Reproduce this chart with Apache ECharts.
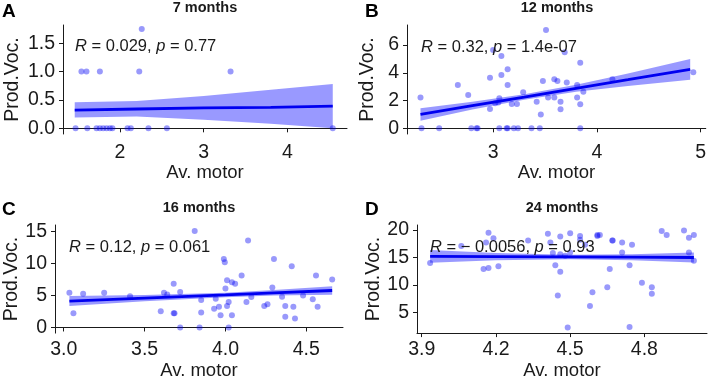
<!DOCTYPE html>
<html>
<head>
<meta charset="utf-8">
<script src="https://cdn.jsdelivr.net/npm/echarts@6/dist/echarts.min.js"></script>
<style>
  html, body { margin: 0; background: #fff; }
  #chart { width: 709px; height: 381px; }
</style>
</head>
<body>
<div id="chart"></div>
<script>
// A: 7 months
const pointsA = [
  [2.26, 1.75], [1.54, 1], [1.60, 1], [1.76, 1], [2.23, 1], [3.32, 1],
  [1.47, 0], [1.61, 0], [1.72, 0], [1.76, 0], [1.80, 0], [1.84, 0], [1.88, 0], [1.91, 0],
  [2.09, 0], [2.13, 0], [2.34, 0], [2.56, 0], [4.54, 0]
];
const fitXA = [1.46, 2.2, 3.0, 3.8, 4.54];
const fitA = [0.32, 0.34, 0.36, 0.37, 0.39];
const lowA = [0.19, 0.21, 0.15, 0.08, 0.0];
const highA = [0.46, 0.48, 0.57, 0.68, 0.78];

// B: 12 months
const pointsB = [
  [2.30, 2.21], [2.31, 0], [2.48, 0], [2.66, 3.12], [2.76, 2.4], [2.79, 0], [2.84, 0], [2.85, 0],
  [2.97, 3.65], [2.97, 1.39], [3.0, 5.64], [3.02, 1.8], [3.05, 1.85], [3.06, 2.16], [3.08, 3.84],
  [3.08, 5.21], [3.06, 0], [3.13, 0], [3.14, 0], [3.14, 4.25], [3.14, 3.12], [3.18, 1.75],
  [3.23, 1.75], [3.20, 0], [3.24, 0], [3.29, 2.59], [3.37, 0], [3.42, 1.92], [3.45, 0],
  [3.46, 1.0], [3.48, 3.4], [3.51, 7.08], [3.53, 2.21], [3.59, 3.53], [3.62, 3.4], [3.59, 2.21],
  [3.65, 1.92], [3.65, 1.37], [3.69, 5.47], [3.71, 3.29], [3.81, 2.21], [3.81, 3.12],
  [3.84, 4.73], [3.84, 1.73], [3.84, 0], [3.87, 2.64], [4.15, 3.53], [4.93, 4.03]
];
const fitXB = [2.3, 2.8, 3.3, 3.8, 4.3, 4.9];
const fitB = [1.0, 1.63, 2.25, 2.88, 3.5, 4.25];
const lowB = [0.55, 1.35, 2.05, 2.63, 3.05, 3.5];
const highB = [1.45, 1.91, 2.45, 3.13, 3.95, 5.0];

// C: 16 months
const pointsC = [
  [3.035, 5.43], [3.06, 2.22], [3.12, 5.28], [3.25, 5.43], [3.41, 4.9], [3.60, 2.53], [3.62, 5.43],
  [3.64, 5.17], [3.68, 6.83], [3.68, 2.22], [3.685, 2.22], [3.72, 5.54], [3.72, 0], [3.81, 15.1],
  [3.85, 4.29], [3.85, 2.33], [3.84, 0], [3.93, 2.95], [3.94, 4.5], [3.96, 3.26], [3.97, 1.91],
  [3.99, 10.7], [3.996, 10.2], [4.0, 6.1], [4.01, 3.36], [4.02, 3.98], [4.01, 7.4], [4.02, 0],
  [4.04, 7.09], [4.04, 1.91], [4.06, 6.83], [4.10, 8.12], [4.13, 3.98], [4.14, 13.6], [4.16, 4.76],
  [4.24, 3.36], [4.26, 3.62], [4.29, 6.26], [4.30, 10.7], [4.35, 4.81], [4.37, 3.36], [4.37, 1.66],
  [4.41, 9.57], [4.42, 3.26], [4.43, 1.4], [4.48, 5.02], [4.54, 4.4], [4.56, 8.12], [4.57, 3.26],
  [4.66, 7.5]
];
const fitXC = [3.035, 3.5, 4.0, 4.3, 4.66];
const fitC = [4.14, 4.6, 5.1, 5.42, 5.79];
const lowC = [3.36, 4.1, 4.75, 5.0, 5.12];
const highC = [4.92, 5.1, 5.45, 5.87, 6.46];

// D: 24 months
const pointsD = [
  [3.934, 14.0], [4.06, 17.1], [4.15, 12.9], [4.17, 13.1], [4.17, 19.5], [4.16, 17.7], [4.19, 18.5],
  [4.21, 13.4], [4.33, 18.1], [4.41, 19.3], [4.42, 17.7], [4.43, 15.8], [4.44, 13.6], [4.45, 8.1],
  [4.46, 18.8], [4.46, 12.4], [4.46, 15.6], [4.48, 15.3], [4.50, 19.4], [4.50, 15.9], [4.49, 2.3],
  [4.54, 18.9], [4.54, 18.2], [4.56, 17.3], [4.58, 6.2], [4.59, 8.7], [4.61, 18.9], [4.61, 19.1],
  [4.62, 19.1], [4.65, 9.6], [4.66, 12.9], [4.67, 18.1], [4.672, 18.1], [4.71, 17.7], [4.71, 15.9],
  [4.74, 13.6], [4.74, 2.4], [4.75, 17.3], [4.79, 10.4], [4.83, 9.6], [4.83, 8.4], [4.87, 19.8],
  [4.89, 19.1], [4.96, 19.9], [4.98, 18.6], [4.98, 15.9], [5.0, 19.1], [5.0, 14.4]
];
const fitXD = [3.934, 4.2, 4.5, 4.75, 5.0];
const fitD = [15.2, 15.15, 15.1, 15.05, 15.0];
const lowD = [14.05, 14.5, 14.7, 14.5, 14.1];
const highD = [16.35, 15.8, 15.5, 15.6, 15.9];

const xTicksA = [2, 3, 4], yTicksA = [0, 0.5, 1, 1.5];
const xTicksB = [3, 4, 5], yTicksB = [0, 2, 4, 6];
const xTicksC = [3.0, 3.5, 4.0, 4.5], yTicksC = [0, 5, 10, 15];
const xTicksD = [3.9, 4.2, 4.5, 4.8], yTicksD = [5, 10, 15, 20];

const titles = ['7 months', '12 months', '16 months', '24 months'];
const letters = ['A', 'B', 'C', 'D'];
const stats = [
  ['0.029', '0.77'],
  ['0.32', '1.4e-07'],
  ['0.12', '0.061'],
  ['\u2212 0.0056', '0.93']
];

const FONT = '"Liberation Sans", Arial, sans-serif';
const ink = '#1a1a1a';

const panels = [
  { pts: pointsA, fx: fitXA, fit: fitA, lo: lowA, hi: highA, xt: xTicksA, yt: yTicksA, xd: 0, yd: 1,
    grid: { left: 63, top: 25, width: 284, height: 109 }, xr: [1.32, 4.71], yr: [-0.1, 1.82], yGap: 40 },
  { pts: pointsB, fx: fitXB, fit: fitB, lo: lowB, hi: highB, xt: xTicksB, yt: yTicksB, xd: 0, yd: 0,
    grid: { left: 407, top: 25, width: 300, height: 109 }, xr: [2.17, 5.05], yr: [-0.41, 7.44], yGap: 29 },
  { pts: pointsC, fx: fitXC, fit: fitC, lo: lowC, hi: highC, xt: xTicksC, yt: yTicksC, xd: 1, yd: 0,
    grid: { left: 55, top: 225, width: 288, height: 109 }, xr: [2.946, 4.727], yr: [-0.88, 16.04], yGap: 32 },
  { pts: pointsD, fx: fitXD, fit: fitD, lo: lowD, hi: highD, xt: xTicksD, yt: yTicksD, xd: 1, yd: 0,
    grid: { left: 417, top: 225, width: 290, height: 109 }, xr: [3.881, 5.053], yr: [1.27, 20.9], yGap: 32 }
];

const grids = [], xAxes = [], yAxes = [], series = [], graphics = [];

panels.forEach((p, i) => {
  const topRow = i < 2;
  grids.push(p.grid);
  const axisCommon = {
    axisLine: { lineStyle: { color: ink, width: 1 } },
    axisTick: { length: 4, lineStyle: { color: ink } },
    splitLine: { show: false }
  };
  xAxes.push({
    ...axisCommon,
    type: 'value', gridIndex: i, min: p.xr[0], max: p.xr[1],
    name: 'Av. motor', nameLocation: 'middle', nameGap: topRow ? 29 : 25,
    nameTextStyle: { color: ink, fontSize: 18.5, fontFamily: FONT },
    axisTick: { ...axisCommon.axisTick, customValues: p.xt },
    axisLabel: { customValues: p.xt, color: ink, fontSize: 19.5, fontFamily: FONT, margin: topRow ? 9 : 7,
      formatter: (v) => v.toFixed(p.xd) }
  });
  yAxes.push({
    ...axisCommon,
    type: 'value', gridIndex: i, min: p.yr[0], max: p.yr[1],
    name: 'Prod.Voc.', nameLocation: 'middle', nameGap: p.yGap,
    nameTextStyle: { color: ink, fontSize: 19.5, fontFamily: FONT },
    axisTick: { ...axisCommon.axisTick, customValues: p.yt },
    axisLabel: { customValues: p.yt, color: ink, fontSize: 19.5, fontFamily: FONT, margin: 8,
      formatter: (v) => v.toFixed(p.yd) }
  });
  series.push({
    type: 'scatter', xAxisIndex: i, yAxisIndex: i, data: p.pts, symbolSize: 6, z: 1,
    itemStyle: { color: 'rgba(0, 0, 245, 0.5)' }, silent: true
  });
  // confidence band drawn as one polygon through the axis scales
  series.push({
    type: 'custom', xAxisIndex: i, yAxisIndex: i, z: 2, silent: true,
    data: p.fx.map((x, k) => [x, p.lo[k], p.hi[k]]),
    encode: { x: 0, y: [1, 2] },
    renderItem: (params, api) => {
      if (params.dataIndex !== 0) return null;
      const upper = p.fx.map((x, k) => api.coord([x, p.hi[k]]));
      const lower = p.fx.map((x, k) => api.coord([x, p.lo[k]])).reverse();
      return {
        type: 'polygon',
        shape: { points: upper.concat(lower) },
        style: { fill: 'rgba(0, 0, 255, 0.4)' }
      };
    }
  });
  series.push({
    type: 'line', xAxisIndex: i, yAxisIndex: i, symbol: 'none', z: 3,
    data: p.fx.map((x, k) => [x, p.fit[k]]), lineStyle: { color: '#0000f0', width: 2.8 }, silent: true
  });

  const g = p.grid;
  graphics.push({
    type: 'text', x: g.left + g.width / 2, y: g.top - 17,
    style: { text: titles[i], fill: ink, fontSize: 14.5, fontWeight: 'bold', fontFamily: FONT,
      align: 'center', verticalAlign: 'middle' }
  });
  graphics.push({
    type: 'text', x: i % 2 === 0 ? 2 : 365, y: topRow ? 12 : 210,
    style: { text: letters[i], fill: '#000', fontSize: 19, fontWeight: 'bold', fontFamily: FONT,
      align: 'left', verticalAlign: 'middle' }
  });
  graphics.push({
    type: 'text', x: [75, 421, 69, 430][i], y: [46, 47, 247, 247][i], z: 10,
    style: {
      text: '{i|R} = ' + stats[i][0] + ', {i|p} = ' + stats[i][1],
      fill: ink, fontSize: 16.5, fontFamily: FONT, align: 'left', verticalAlign: 'middle',
      rich: { i: { fontStyle: 'italic', fontSize: 16.5, fontFamily: FONT, fill: ink } }
    }
  });
});

const chart = echarts.init(document.getElementById('chart'));
chart.setOption({
  animation: false,
  backgroundColor: '#fff',
  grid: grids,
  xAxis: xAxes,
  yAxis: yAxes,
  series: series,
  graphic: graphics
});
</script>
</body>
</html>
